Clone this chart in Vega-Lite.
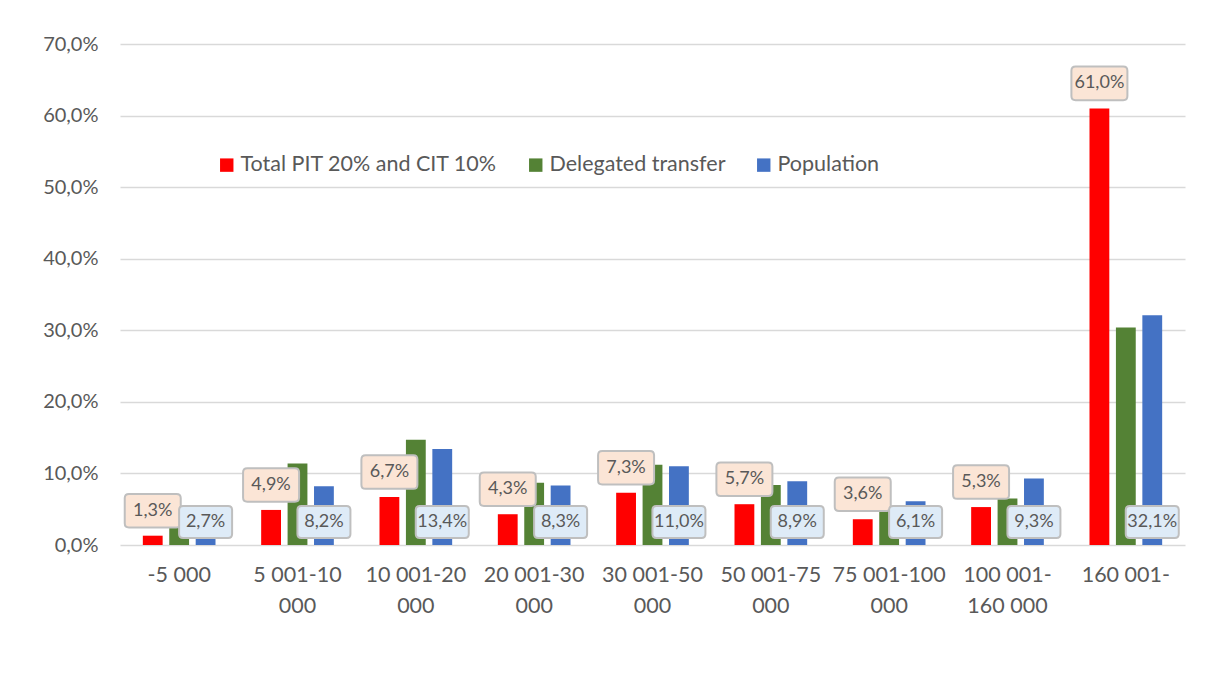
{
  "$schema": "https://vega.github.io/schema/vega-lite/v6.json",
  "width": 1065,
  "height": 501,
  "autosize": {"type": "none"},
  "padding": {"left": 120, "top": 44, "right": 33, "bottom": 155},
  "background": "white",
  "config": {
    "locale": {"number": {"decimal": ",", "thousands": " ", "grouping": [3], "currency": ["", ""]}},
    "view": {"stroke": null},
    "font": "Lato"
  },
  "data": {
    "values": [
      {"group": "-5 000", "series": "Total PIT 20% and CIT 10%", "value": 0.013},
      {"group": "-5 000", "series": "Delegated transfer", "value": 0.030},
      {"group": "-5 000", "series": "Population", "value": 0.027},
      {"group": "5 001-10 000", "series": "Total PIT 20% and CIT 10%", "value": 0.049},
      {"group": "5 001-10 000", "series": "Delegated transfer", "value": 0.114},
      {"group": "5 001-10 000", "series": "Population", "value": 0.082},
      {"group": "10 001-20 000", "series": "Total PIT 20% and CIT 10%", "value": 0.067},
      {"group": "10 001-20 000", "series": "Delegated transfer", "value": 0.147},
      {"group": "10 001-20 000", "series": "Population", "value": 0.134},
      {"group": "20 001-30 000", "series": "Total PIT 20% and CIT 10%", "value": 0.043},
      {"group": "20 001-30 000", "series": "Delegated transfer", "value": 0.087},
      {"group": "20 001-30 000", "series": "Population", "value": 0.083},
      {"group": "30 001-50 000", "series": "Total PIT 20% and CIT 10%", "value": 0.073},
      {"group": "30 001-50 000", "series": "Delegated transfer", "value": 0.112},
      {"group": "30 001-50 000", "series": "Population", "value": 0.110},
      {"group": "50 001-75 000", "series": "Total PIT 20% and CIT 10%", "value": 0.057},
      {"group": "50 001-75 000", "series": "Delegated transfer", "value": 0.084},
      {"group": "50 001-75 000", "series": "Population", "value": 0.089},
      {"group": "75 001-100 000", "series": "Total PIT 20% and CIT 10%", "value": 0.036},
      {"group": "75 001-100 000", "series": "Delegated transfer", "value": 0.048},
      {"group": "75 001-100 000", "series": "Population", "value": 0.061},
      {"group": "100 001-160 000", "series": "Total PIT 20% and CIT 10%", "value": 0.053},
      {"group": "100 001-160 000", "series": "Delegated transfer", "value": 0.065},
      {"group": "100 001-160 000", "series": "Population", "value": 0.093},
      {"group": "160 001-", "series": "Total PIT 20% and CIT 10%", "value": 0.610},
      {"group": "160 001-", "series": "Delegated transfer", "value": 0.304},
      {"group": "160 001-", "series": "Population", "value": 0.321}
    ]
  },
  "encoding": {
    "x": {
      "field": "group",
      "type": "nominal",
      "sort": null,
      "scale": {"paddingInner": 0.33, "paddingOuter": 0.165},
      "axis": {
        "title": null,
        "labelAngle": 0,
        "domain": false,
        "ticks": false,
        "labelFontSize": 21.5,
        "labelColor": "#595959",
        "labelPadding": 19,
        "labelLineHeight": 31,
        "labelExpr": "datum.label == '100 001-160 000' ? ['100 001-', '160 000'] : ((datum.label == '-5 000' || datum.label == '160 001-') ? datum.label : [slice(datum.label, 0, lastindexof(datum.label, ' ')), slice(datum.label, lastindexof(datum.label, ' ') + 1)])"
      }
    },
    "xOffset": {
      "field": "series",
      "type": "nominal",
      "sort": ["Total PIT 20% and CIT 10%", "Delegated transfer", "Population"],
      "scale": {"paddingInner": 0.25, "paddingOuter": 0.125}
    }
  },
  "layer": [
    {
      "mark": {"type": "bar"},
      "encoding": {
        "y": {
          "field": "value",
          "type": "quantitative",
          "scale": {"domain": [0, 0.7]},
          "axis": {
            "title": null,
            "format": ".1%",
            "values": [0, 0.1, 0.2, 0.3, 0.4, 0.5, 0.6, 0.7],
            "domain": false,
            "ticks": false,
            "labelFontSize": 20,
            "labelColor": "#595959",
            "labelPadding": 22,
            "gridColor": "#d9d9d9",
            "gridWidth": 1.3
          }
        },
        "color": {
          "field": "series",
          "type": "nominal",
          "scale": {
            "domain": ["Total PIT 20% and CIT 10%", "Delegated transfer", "Population"],
            "range": ["#FF0000", "#548235", "#4472C4"]
          },
          "legend": {
            "title": null,
            "orient": "none",
            "legendX": 96,
            "legendY": 110,
            "direction": "horizontal",
            "symbolType": "square",
            "symbolSize": 180,
            "symbolStrokeWidth": 0,
            "labelFontSize": 21.5,
            "labelColor": "#595959",
            "labelOffset": 3,
            "columnPadding": 27,
            "padding": 0,
            "labelLimit": 400
          }
        }
      }
    },
    {
      "transform": [{"filter": "datum.series == 'Total PIT 20% and CIT 10%'"}],
      "mark": {
        "type": "point",
        "shape": "M-0.85,-0.6 L0.85,-0.6 Q1,-0.6 1,-0.45 L1,0.45 Q1,0.6 0.85,0.6 L-0.85,0.6 Q-1,0.6 -1,0.45 L-1,-0.45 Q-1,-0.6 -0.85,-0.6 Z",
        "size": 3136,
        "filled": true,
        "fill": "#FBE5D6",
        "stroke": "#BFBFBF",
        "strokeWidth": 2,
        "opacity": 1,
        "yOffset": -25
      },
      "encoding": {
        "y": {"field": "value", "type": "quantitative"}
      }
    },
    {
      "transform": [{"filter": "datum.series == 'Total PIT 20% and CIT 10%'"}],
      "mark": {
        "type": "text",
        "fontSize": 18,
        "color": "#595959",
        "baseline": "middle",
        "align": "center",
        "yOffset": -25
      },
      "encoding": {
        "y": {"field": "value", "type": "quantitative"},
        "text": {"field": "value", "type": "quantitative", "format": ".1%"}
      }
    },
    {
      "transform": [{"filter": "datum.series == 'Population'"}],
      "mark": {
        "type": "point",
        "shape": "M-0.85,-0.6 L0.85,-0.6 Q1,-0.6 1,-0.45 L1,0.45 Q1,0.6 0.85,0.6 L-0.85,0.6 Q-1,0.6 -1,0.45 L-1,-0.45 Q-1,-0.6 -0.85,-0.6 Z",
        "size": 2809,
        "filled": true,
        "fill": "#DEEBF7",
        "stroke": "#BFBFBF",
        "strokeWidth": 2,
        "opacity": 1,
        "yOffset": -23
      },
      "encoding": {
        "y": {"datum": 0, "type": "quantitative"}
      }
    },
    {
      "transform": [{"filter": "datum.series == 'Population'"}],
      "mark": {
        "type": "text",
        "fontSize": 18,
        "color": "#595959",
        "baseline": "middle",
        "align": "center",
        "yOffset": -23
      },
      "encoding": {
        "y": {"datum": 0, "type": "quantitative"},
        "text": {"field": "value", "type": "quantitative", "format": ".1%"}
      }
    }
  ]
}
